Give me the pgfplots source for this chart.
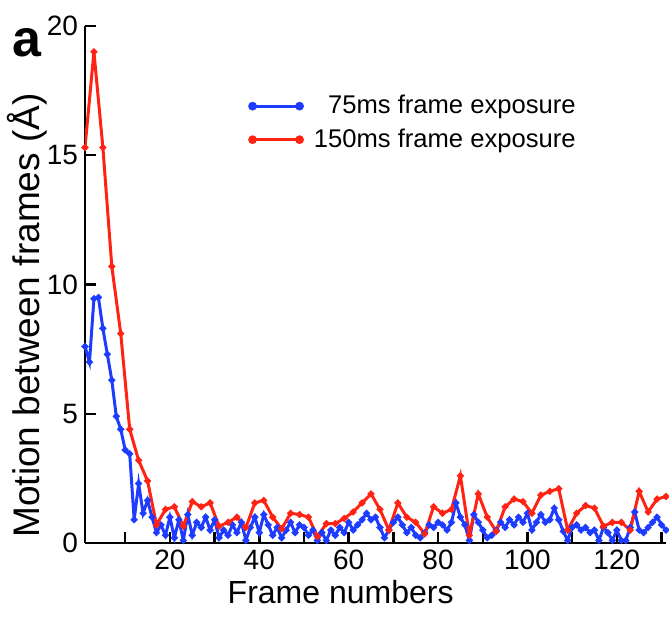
\documentclass[border=0pt]{standalone}
\usepackage{fontspec}
\setmainfont{Liberation Sans}
\usepackage{pgfplots}
\usepackage{pgfplotstable}
\pgfplotsset{compat=1.18}
\definecolor{myblue}{RGB}{30,60,255}
\definecolor{myred}{RGB}{255,35,20}

\pgfplotstableread{
x y
1 7.6
2 7.0
3 9.45
4 9.5
5 8.3
6 7.3
7 6.3
8 4.9
9 4.4
10 3.6
11 3.45
12 0.9
13 2.3
14 1.15
15 1.65
16 1.0
17 0.4
18 0.7
19 0.3
20 1.0
21 0.2
22 0.9
23 0.1
24 1.1
25 0.3
26 0.8
27 0.6
28 1.0
29 0.5
30 0.9
31 0.2
32 0.5
33 0.3
34 0.7
35 0.4
36 0.8
37 0.1
38 0.6
39 1.0
40 0.4
41 1.1
42 0.7
43 0.3
44 0.6
45 0.2
46 0.5
47 0.8
48 0.4
49 0.7
50 0.6
51 0.3
52 0.5
53 0.1
54 0.4
55 0.1
56 0.5
57 0.3
58 0.6
59 0.4
60 0.8
61 0.5
62 0.7
63 0.9
64 1.15
65 0.9
66 1.0
67 0.6
68 0.2
69 0.5
70 0.8
71 1.0
72 0.7
73 0.4
74 0.6
75 0.3
76 0.2
77 0.4
78 0.7
79 0.6
80 0.8
81 0.7
82 0.5
83 0.8
84 1.55
85 1.0
86 0.7
87 0.1
88 1.1
89 0.8
90 0.5
91 0.2
92 0.3
93 0.5
94 0.8
95 0.6
96 0.9
97 0.7
98 1.0
99 0.8
100 1.15
101 0.5
102 0.8
103 1.1
104 0.8
105 0.9
106 1.35
107 0.9
108 0.45
109 0.1
110 0.6
111 0.7
112 0.5
113 0.6
114 0.4
115 0.5
116 0.1
117 0.6
118 0.4
119 0.1
120 0.5
121 0.1
122 0.1
123 0.6
124 1.2
125 0.5
126 0.4
127 0.6
128 0.8
129 1.0
130 0.7
131 0.5
}\bluetable

\pgfplotstableread{
x y
1 15.3
3 19.0
5 15.3
7 10.7
9 8.1
11 4.4
13 3.2
15 2.4
17 0.7
19 1.3
21 1.4
23 0.65
25 1.6
27 1.4
29 1.55
31 0.65
33 0.8
35 1.0
37 0.6
39 1.55
41 1.65
43 1.0
45 0.55
47 1.15
49 1.1
51 1.0
53 0.25
55 0.75
57 0.75
59 0.95
61 1.2
63 1.55
65 1.9
67 1.3
69 0.5
71 1.55
73 1.0
75 0.8
77 0.35
79 1.4
81 1.15
83 1.3
85 2.6
87 0.3
89 1.9
91 1.0
93 0.45
95 1.4
97 1.7
99 1.6
101 1.15
103 1.85
105 2.0
107 2.1
109 0.5
111 1.15
113 1.45
115 1.35
117 0.65
119 0.8
121 0.8
123 0.5
125 2.0
127 1.2
129 1.7
131 1.8
}\redtable

\begin{document}
\begin{tikzpicture}
\useasboundingbox (-42.5pt,-41.5pt) rectangle (292pt,271.5pt);
\begin{axis}[
  at={(0,0)}, anchor=south west,
  scale only axis, width=290.5pt, height=258.5pt,
  xmin=1, xmax=131, ymin=0, ymax=20,
  axis x line*=bottom, axis y line*=left,
  axis line style={line width=1.2pt, -},
  tick align=inside, major tick length=5.5pt,
  tick style={line width=1.2pt, black},
  xtick={10,20,...,130},
  xticklabels={,20,,40,,60,,80,,100,,120,},
  ytick={0,5,10,15,20},
  /pgf/number format/assume math mode=true,
  tick label style={font=\fontsize{14}{16}\selectfont},
  xlabel={Frame numbers},
  ylabel={Motion between frames (Å)},
  xlabel style={font=\fontsize{16}{18}\selectfont, at={(axis description cs:0.44,-0.095)}, anchor=center},
  ylabel style={font=\fontsize{18.5}{20}\selectfont, at={(axis description cs:-0.1,0.44)}, anchor=center},
  legend style={draw=none, fill=none, at={(axis description cs:0.27,0.882)}, anchor=north west,
    font=\fontsize{12.8}{14}\selectfont, row sep=2pt, column sep=3pt},
  legend cell align=left,
  legend image code/.code={\draw[#1] (0pt,0pt) -- (23.5pt,0pt); \fill[#1] (0pt,0pt) circle (1.4pt) (23.5pt,0pt) circle (1.4pt);},
]
\addplot[color=myblue, line width=1.5pt, mark=*, mark size=0.85pt] table[x=x,y=y] {\bluetable};
\addplot[color=myred, line width=1.5pt, mark=*, mark size=0.85pt] table[x=x,y=y] {\redtable};
\legend{\phantom{1}75ms frame exposure, 150ms frame exposure}
\end{axis}
\node[font=\bfseries\fontsize{26}{28}\selectfont, anchor=base west, inner sep=0pt] at (-36.5pt,243pt) {a};
\end{tikzpicture}
\end{document}
